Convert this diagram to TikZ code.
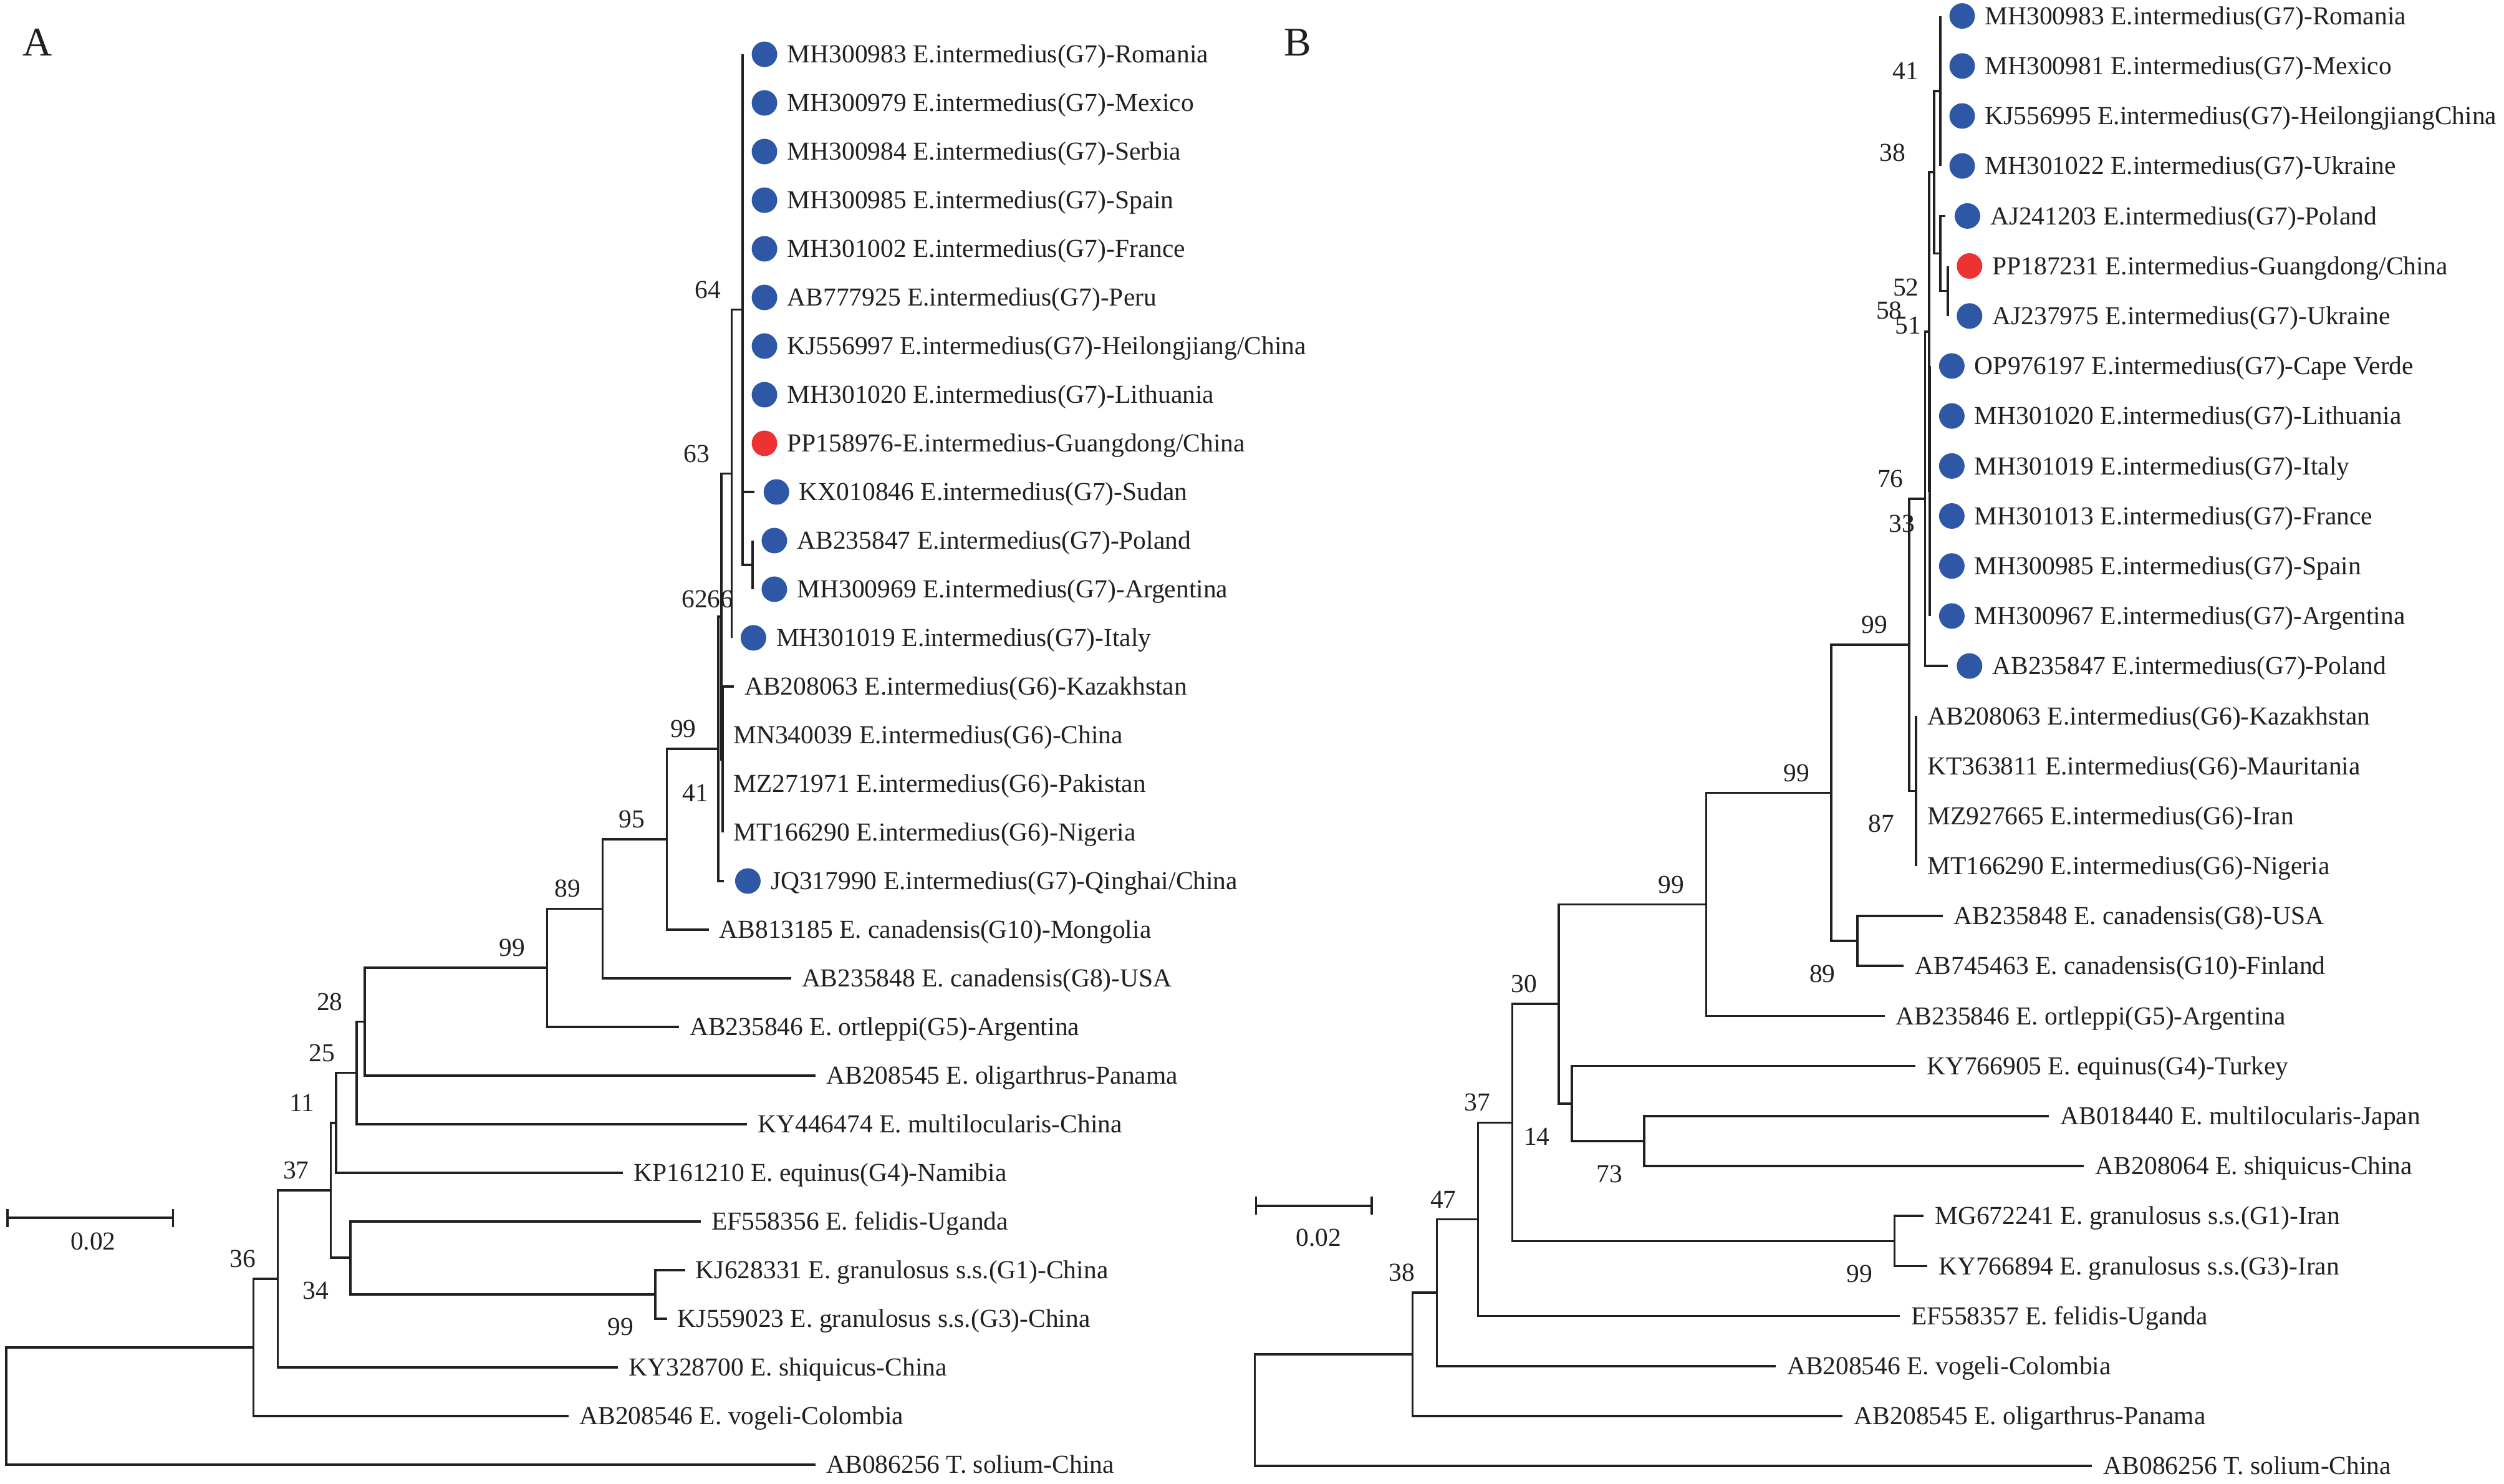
\documentclass[tikz,border=0pt]{standalone}
\usepackage{fontspec}
\setmainfont{Liberation Serif}
\usetikzlibrary{positioning}
\usetikzlibrary{arrows.meta}

\definecolor{inkline}{RGB}{35,31,32}
\definecolor{dotblue}{RGB}{46,88,166}
\definecolor{dotred}{RGB}{236,50,50}

\tikzset{
  branch/.style={draw=inkline, line width=1.4pt},
  tiplabel/.style={anchor=west, inner sep=0pt, text=inkline, font=\fontsize{16.2}{18}\selectfont, text height=10.7pt, text depth=0pt},
  bluedot/.style={circle, fill=dotblue, minimum size=16pt, inner sep=0pt},
  reddot/.style={circle, fill=dotred, minimum size=16pt, inner sep=0pt},
  bsfree/.style={inner sep=0pt, text=inkline, font=\fontsize{16.2}{18}\selectfont},
  bsup/.style={bsfree, anchor=east, xshift=-13.5pt, yshift=12.5pt},
  bsdown/.style={bsfree, anchor=east, xshift=-13.5pt, yshift=-20.5pt},
  panel/.style={inner sep=0pt, text=inkline, font=\fontsize{25.5}{28}\selectfont},
  scalebar/.style={branch, {Bar[width=11.4pt]}-{Bar[width=11.4pt]}}
}

\begin{document}
\begin{tikzpicture}[x=1pt, y=-1pt]
\useasboundingbox (0,0) rectangle (1568,929);

\node[panel] (pA) at (23.5,26.7) {A};
\node[panel] (pB) at (812.5,26.7) {B};

% Tree A: internal nodes
\coordinate (aN64) at (465,193.9);
\coordinate (aNc) at (471.2,353.7);
\coordinate (aN63) at (458.1,296.6);
\coordinate (aNW) at (452.6,475.5);
\coordinate (aNZ) at (451.7,386.1);
\coordinate (aNY) at (449.7,468.9);
\coordinate (aN95) at (417.5,525.5);
\coordinate (aN89) at (377.3,569);
\coordinate (aN99) at (342.6,606);
\coordinate (aN28) at (228.3,639.7);
\coordinate (aN25) at (223.4,671.8);
\coordinate (aN11) at (210.5,703.1);
\coordinate (aN34) at (219.5,787.6);
\coordinate (aNg) at (410.3,810.5);
\coordinate (aN37) at (207.2,745.4);
\coordinate (aN36) at (173.9,800.8);
\coordinate (aNr1) at (158.7,843.7);
\coordinate (aNroot) at (3.9,880.4);

% Tree A: tips
\coordinate (tA1) at (465,34.0);
\coordinate (tA2) at (465,64.45);
\coordinate (tA3) at (465,94.9);
\coordinate (tA4) at (465,125.35);
\coordinate (tA5) at (465,155.8);
\coordinate (tA6) at (465,186.25);
\coordinate (tA7) at (465,216.7);
\coordinate (tA8) at (465,247.15);
\coordinate (tA9) at (465,277.6);
\coordinate (tA10) at (472.5,308.05);
\coordinate (tA11) at (471.2,338.5);
\coordinate (tA12) at (471.2,368.95);
\coordinate (tA13) at (458.1,399.4);
\coordinate (tA14) at (459.6,429.85);
\coordinate (tA15) at (452.6,460.3);
\coordinate (tA16) at (452.6,490.75);
\coordinate (tA17) at (452.6,521.2);
\coordinate (tA18) at (453.1,551.65);
\coordinate (tA19) at (443.8,582.1);
\coordinate (tA20) at (495.4,612.55);
\coordinate (tA21) at (425.2,643.0);
\coordinate (tA22) at (510.8,673.45);
\coordinate (tA23) at (467.9,703.9);
\coordinate (tA24) at (390.2,734.35);
\coordinate (tA25) at (438.8,764.8);
\coordinate (tA26) at (429.0,795.25);
\coordinate (tA27) at (417.7,825.7);
\coordinate (tA28) at (387.0,856.15);
\coordinate (tA29) at (356.2,886.6);
\coordinate (tA30) at (510.8,917.05);

% Tree A: branches
\draw[branch] (aN64) |- (tA1) (aN64) |- (tA2) (aN64) |- (tA3) (aN64) |- (tA4) (aN64) |- (tA5)
  (aN64) |- (tA6) (aN64) |- (tA7) (aN64) |- (tA8) (aN64) |- (tA9) (aN64) |- (tA10) (aN64) |- (aNc);
\draw[branch] (aNc) |- (tA11) (aNc) |- (tA12);
\draw[branch] (aN63) |- (aN64) (aN63) |- (tA13);
\draw[branch] (aNW) |- (tA14) (aNW) |- (tA15) (aNW) |- (tA16) (aNW) |- (tA17);
\draw[branch] (aNZ) |- (aN63) (aNZ) |- (aNW);
\draw[branch] (aNY) |- (aNZ) (aNY) |- (tA18);
\draw[branch] (aN95) |- (aNY) (aN95) |- (tA19);
\draw[branch] (aN89) |- (aN95) (aN89) |- (tA20);
\draw[branch] (aN99) |- (aN89) (aN99) |- (tA21);
\draw[branch] (aN28) |- (aN99) (aN28) |- (tA22);
\draw[branch] (aN25) |- (aN28) (aN25) |- (tA23);
\draw[branch] (aN11) |- (aN25) (aN11) |- (tA24);
\draw[branch] (aNg) |- (tA26) (aNg) |- (tA27);
\draw[branch] (aN34) |- (tA25) (aN34) |- (aNg);
\draw[branch] (aN37) |- (aN11) (aN37) |- (aN34);
\draw[branch] (aN36) |- (aN37) (aN36) |- (tA28);
\draw[branch] (aNr1) |- (aN36) (aNr1) |- (tA29);
\draw[branch] (aNroot) |- (aNr1) (aNroot) |- (tA30);

% Tree A: tip labels
\node[bluedot, right=5.5pt of tA1] (dA1) {};
\node[tiplabel, right=5.9pt of dA1] (lA1) {MH300983 E.intermedius(G7)-Romania};
\node[bluedot, right=5.5pt of tA2] (dA2) {};
\node[tiplabel, right=5.9pt of dA2] (lA2) {MH300979 E.intermedius(G7)-Mexico};
\node[bluedot, right=5.5pt of tA3] (dA3) {};
\node[tiplabel, right=5.9pt of dA3] (lA3) {MH300984 E.intermedius(G7)-Serbia};
\node[bluedot, right=5.5pt of tA4] (dA4) {};
\node[tiplabel, right=5.9pt of dA4] (lA4) {MH300985 E.intermedius(G7)-Spain};
\node[bluedot, right=5.5pt of tA5] (dA5) {};
\node[tiplabel, right=5.9pt of dA5] (lA5) {MH301002 E.intermedius(G7)-France};
\node[bluedot, right=5.5pt of tA6] (dA6) {};
\node[tiplabel, right=5.9pt of dA6] (lA6) {AB777925 E.intermedius(G7)-Peru};
\node[bluedot, right=5.5pt of tA7] (dA7) {};
\node[tiplabel, right=5.9pt of dA7] (lA7) {KJ556997 E.intermedius(G7)-Heilongjiang/China};
\node[bluedot, right=5.5pt of tA8] (dA8) {};
\node[tiplabel, right=5.9pt of dA8] (lA8) {MH301020 E.intermedius(G7)-Lithuania};
\node[reddot, right=5.5pt of tA9] (dA9) {};
\node[tiplabel, right=5.9pt of dA9] (lA9) {PP158976-E.intermedius-Guangdong/China};
\node[bluedot, right=5.5pt of tA10] (dA10) {};
\node[tiplabel, right=5.9pt of dA10] (lA10) {KX010846 E.intermedius(G7)-Sudan};
\node[bluedot, right=5.5pt of tA11] (dA11) {};
\node[tiplabel, right=5.9pt of dA11] (lA11) {AB235847 E.intermedius(G7)-Poland};
\node[bluedot, right=5.5pt of tA12] (dA12) {};
\node[tiplabel, right=5.9pt of dA12] (lA12) {MH300969 E.intermedius(G7)-Argentina};
\node[bluedot, right=5.5pt of tA13] (dA13) {};
\node[tiplabel, right=5.9pt of dA13] (lA13) {MH301019 E.intermedius(G7)-Italy};
\node[tiplabel, right=6.5pt of tA14] (lA14) {AB208063 E.intermedius(G6)-Kazakhstan};
\node[tiplabel, right=6.5pt of tA15] (lA15) {MN340039 E.intermedius(G6)-China};
\node[tiplabel, right=6.5pt of tA16] (lA16) {MZ271971 E.intermedius(G6)-Pakistan};
\node[tiplabel, right=6.5pt of tA17] (lA17) {MT166290 E.intermedius(G6)-Nigeria};
\node[bluedot, right=7pt of tA18] (dA18) {};
\node[tiplabel, right=5.9pt of dA18] (lA18) {JQ317990 E.intermedius(G7)-Qinghai/China};
\node[tiplabel, right=6.5pt of tA19] (lA19) {AB813185 E. canadensis(G10)-Mongolia};
\node[tiplabel, right=6.5pt of tA20] (lA20) {AB235848 E. canadensis(G8)-USA};
\node[tiplabel, right=6.5pt of tA21] (lA21) {AB235846 E. ortleppi(G5)-Argentina};
\node[tiplabel, right=6.5pt of tA22] (lA22) {AB208545 E. oligarthrus-Panama};
\node[tiplabel, right=6.5pt of tA23] (lA23) {KY446474 E. multilocularis-China};
\node[tiplabel, right=6.5pt of tA24] (lA24) {KP161210 E. equinus(G4)-Namibia};
\node[tiplabel, right=6.5pt of tA25] (lA25) {EF558356 E. felidis-Uganda};
\node[tiplabel, right=6.5pt of tA26] (lA26) {KJ628331 E. granulosus s.s.(G1)-China};
\node[tiplabel, right=6.5pt of tA27] (lA27) {KJ559023 E. granulosus s.s.(G3)-China};
\node[tiplabel, right=6.5pt of tA28] (lA28) {KY328700 E. shiquicus-China};
\node[tiplabel, right=6.5pt of tA29] (lA29) {AB208546 E. vogeli-Colombia};
\node[tiplabel, right=6.5pt of tA30] (lA30) {AB086256 T. solium-China};

% Tree A: bootstrap values
\node[bsup] (bA64) at (aN64) {64};
\node[bsup] (bA63) at (aN63) {63};
\node[bsfree] (bA62) at (435,375) {62};
\node[bsfree] (bA66) at (451,375) {66};
\node[bsup] (bAY) at (aNY) {99};
\node[bsfree] (bA41) at (435.4,496.5) {41};
\node[bsup] (bA95) at (aN95) {95};
\node[bsup] (bA89) at (aN89) {89};
\node[bsup] (bA99) at (aN99) {99};
\node[bsup] (bA28) at (aN28) {28};
\node[bsup] (bA25) at (aN25) {25};
\node[bsup] (bA11) at (aN11) {11};
\node[bsup] (bA37) at (aN37) {37};
\node[bsup] (bA36) at (aN36) {36};
\node[bsdown] (bA34) at (aN34) {34};
\node[bsdown] (bAg) at (aNg) {99};

% Tree A: scale
\coordinate (sA0) at (3.9,762.6);
\coordinate (sA1) at (109.1,762.6);
\draw[scalebar] (sA0) -- (sA1);
\node[bsfree] (scA) at (58.3,777.3) {0.02};

% Tree B: internal nodes
\coordinate (bN41) at (1215,56.97);
\coordinate (bNc) at (1219.6,182.2);
\coordinate (bN52) at (1215,158.7);
\coordinate (bN38) at (1211.1,107.8);
\coordinate (bNP) at (1208.5,307.4);
\coordinate (bNX) at (1207.9,207.6);
\coordinate (bNR) at (1205.5,312.3);
\coordinate (bNG) at (1199.8,495.3);
\coordinate (bNS) at (1195.5,403.8);
\coordinate (bNcan) at (1163,589.2);
\coordinate (bNT) at (1146.8,496.5);
\coordinate (bNU) at (1068.4,566.4);
\coordinate (bN73) at (1029.6,714.5);
\coordinate (bN14) at (984.2,691);
\coordinate (bNV) at (976.1,628.7);
\coordinate (bNg) at (1186.3,777.1);
\coordinate (bN37) at (947,702.9);
\coordinate (bN47) at (925.6,763.5);
\coordinate (bN38r) at (899.7,809.4);
\coordinate (bNr1) at (884.5,848);
\coordinate (bNroot) at (785.8,883);

% Tree B: tips
\coordinate (tB1) at (1215,10.0);
\coordinate (tB2) at (1215,41.31);
\coordinate (tB3) at (1215,72.62);
\coordinate (tB4) at (1215,103.93);
\coordinate (tB5) at (1218.3,135.24);
\coordinate (tB6) at (1219.6,166.55);
\coordinate (tB7) at (1219.6,197.86);
\coordinate (tB8) at (1208.5,229.17);
\coordinate (tB9) at (1208.5,260.48);
\coordinate (tB10) at (1208.5,291.79);
\coordinate (tB11) at (1208.5,323.1);
\coordinate (tB12) at (1208.5,354.41);
\coordinate (tB13) at (1208.5,385.72);
\coordinate (tB14) at (1219.6,417.03);
\coordinate (tB15) at (1199.8,448.34);
\coordinate (tB16) at (1199.8,479.65);
\coordinate (tB17) at (1199.8,510.96);
\coordinate (tB18) at (1199.8,542.27);
\coordinate (tB19) at (1216.4,573.58);
\coordinate (tB20) at (1192.1,604.89);
\coordinate (tB21) at (1180.1,636.2);
\coordinate (tB22) at (1199.3,667.51);
\coordinate (tB23) at (1283,698.82);
\coordinate (tB24) at (1305,730.13);
\coordinate (tB25) at (1204.4,761.44);
\coordinate (tB26) at (1206.7,792.75);
\coordinate (tB27) at (1189.5,824.06);
\coordinate (tB28) at (1111.8,855.37);
\coordinate (tB29) at (1153.9,886.68);
\coordinate (tB30) at (1310,917.99);

% Tree B: branches
\draw[branch] (bN41) |- (tB1) (bN41) |- (tB2) (bN41) |- (tB3) (bN41) |- (tB4);
\draw[branch] (bNc) |- (tB6) (bNc) |- (tB7);
\draw[branch] (bN52) |- (tB5) (bN52) |- (bNc);
\draw[branch] (bN38) |- (bN41) (bN38) |- (bN52);
\draw[branch] (bNP) |- (tB8) (bNP) |- (tB9) (bNP) |- (tB10) (bNP) |- (tB11) (bNP) |- (tB12) (bNP) |- (tB13);
\draw[branch] (bNX) |- (bN38) (bNX) |- (bNP);
\draw[branch] (bNR) |- (bNX) (bNR) |- (tB14);
\draw[branch] (bNG) |- (tB15) (bNG) |- (tB16) (bNG) |- (tB17) (bNG) |- (tB18);
\draw[branch] (bNS) |- (bNR) (bNS) |- (bNG);
\draw[branch] (bNcan) |- (tB19) (bNcan) |- (tB20);
\draw[branch] (bNT) |- (bNS) (bNT) |- (bNcan);
\draw[branch] (bNU) |- (bNT) (bNU) |- (tB21);
\draw[branch] (bN73) |- (tB23) (bN73) |- (tB24);
\draw[branch] (bN14) |- (tB22) (bN14) |- (bN73);
\draw[branch] (bNV) |- (bNU) (bNV) |- (bN14);
\draw[branch] (bNg) |- (tB25) (bNg) |- (tB26);
\draw[branch] (bN37) |- (bNV) (bN37) |- (bNg);
\draw[branch] (bN47) |- (bN37) (bN47) |- (tB27);
\draw[branch] (bN38r) |- (bN47) (bN38r) |- (tB28);
\draw[branch] (bNr1) |- (bN38r) (bNr1) |- (tB29);
\draw[branch] (bNroot) |- (bNr1) (bNroot) |- (tB30);

% Tree B: tip labels
\node[bluedot, right=5.5pt of tB1] (dB1) {};
\node[tiplabel, right=5.9pt of dB1] (lB1) {MH300983 E.intermedius(G7)-Romania};
\node[bluedot, right=5.5pt of tB2] (dB2) {};
\node[tiplabel, right=5.9pt of dB2] (lB2) {MH300981 E.intermedius(G7)-Mexico};
\node[bluedot, right=5.5pt of tB3] (dB3) {};
\node[tiplabel, right=5.9pt of dB3] (lB3) {KJ556995 E.intermedius(G7)-HeilongjiangChina};
\node[bluedot, right=5.5pt of tB4] (dB4) {};
\node[tiplabel, right=5.9pt of dB4] (lB4) {MH301022 E.intermedius(G7)-Ukraine};
\node[bluedot, right=5.5pt of tB5] (dB5) {};
\node[tiplabel, right=5.9pt of dB5] (lB5) {AJ241203 E.intermedius(G7)-Poland};
\node[reddot, right=5.5pt of tB6] (dB6) {};
\node[tiplabel, right=5.9pt of dB6] (lB6) {PP187231 E.intermedius-Guangdong/China};
\node[bluedot, right=5.5pt of tB7] (dB7) {};
\node[tiplabel, right=5.9pt of dB7] (lB7) {AJ237975 E.intermedius(G7)-Ukraine};
\node[bluedot, right=5.5pt of tB8] (dB8) {};
\node[tiplabel, right=5.9pt of dB8] (lB8) {OP976197 E.intermedius(G7)-Cape Verde};
\node[bluedot, right=5.5pt of tB9] (dB9) {};
\node[tiplabel, right=5.9pt of dB9] (lB9) {MH301020 E.intermedius(G7)-Lithuania};
\node[bluedot, right=5.5pt of tB10] (dB10) {};
\node[tiplabel, right=5.9pt of dB10] (lB10) {MH301019 E.intermedius(G7)-Italy};
\node[bluedot, right=5.5pt of tB11] (dB11) {};
\node[tiplabel, right=5.9pt of dB11] (lB11) {MH301013 E.intermedius(G7)-France};
\node[bluedot, right=5.5pt of tB12] (dB12) {};
\node[tiplabel, right=5.9pt of dB12] (lB12) {MH300985 E.intermedius(G7)-Spain};
\node[bluedot, right=5.5pt of tB13] (dB13) {};
\node[tiplabel, right=5.9pt of dB13] (lB13) {MH300967 E.intermedius(G7)-Argentina};
\node[bluedot, right=5.5pt of tB14] (dB14) {};
\node[tiplabel, right=5.9pt of dB14] (lB14) {AB235847 E.intermedius(G7)-Poland};
\node[tiplabel, right=7pt of tB15] (lB15) {AB208063 E.intermedius(G6)-Kazakhstan};
\node[tiplabel, right=7pt of tB16] (lB16) {KT363811 E.intermedius(G6)-Mauritania};
\node[tiplabel, right=7pt of tB17] (lB17) {MZ927665 E.intermedius(G6)-Iran};
\node[tiplabel, right=7pt of tB18] (lB18) {MT166290 E.intermedius(G6)-Nigeria};
\node[tiplabel, right=7pt of tB19] (lB19) {AB235848 E. canadensis(G8)-USA};
\node[tiplabel, right=7pt of tB20] (lB20) {AB745463 E. canadensis(G10)-Finland};
\node[tiplabel, right=7pt of tB21] (lB21) {AB235846 E. ortleppi(G5)-Argentina};
\node[tiplabel, right=7pt of tB22] (lB22) {KY766905 E. equinus(G4)-Turkey};
\node[tiplabel, right=7pt of tB23] (lB23) {AB018440 E. multilocularis-Japan};
\node[tiplabel, right=7pt of tB24] (lB24) {AB208064 E. shiquicus-China};
\node[tiplabel, right=7pt of tB25] (lB25) {MG672241 E. granulosus s.s.(G1)-Iran};
\node[tiplabel, right=7pt of tB26] (lB26) {KY766894 E. granulosus s.s.(G3)-Iran};
\node[tiplabel, right=7pt of tB27] (lB27) {EF558357 E. felidis-Uganda};
\node[tiplabel, right=7pt of tB28] (lB28) {AB208546 E. vogeli-Colombia};
\node[tiplabel, right=7pt of tB29] (lB29) {AB208545 E. oligarthrus-Panama};
\node[tiplabel, right=7pt of tB30] (lB30) {AB086256 T. solium-China};

% Tree B: bootstrap values
\node[bsup] (bB41) at (bN41) {41};
\node[bsfree] (bB38) at (1185,95.6) {38};
\node[bsfree] (bB52) at (1193.5,180) {52};
\node[bsfree] (bB58) at (1183,194.3) {58};
\node[bsfree] (bB51) at (1195,204) {51};
\node[bsup] (bB76) at (bNR) {76};
\node[bsfree] (bB33) at (1191,328) {33};
\node[bsup] (bBS) at (bNS) {99};
\node[bsdown] (bB87) at (bNG) {87};
\node[bsup] (bBT) at (bNT) {99};
\node[bsdown] (bB89) at (bNcan) {89};
\node[bsup] (bBU) at (bNU) {99};
\node[bsup] (bB30) at (bNV) {30};
\node[bsdown] (bB14) at (bN14) {14};
\node[bsdown] (bB73) at (bN73) {73};
\node[bsup] (bB37) at (bN37) {37};
\node[bsdown] (bBg) at (bNg) {99};
\node[bsup] (bB47) at (bN47) {47};
\node[bsup] (bB38r) at (bN38r) {38};

% Tree B: scale
\coordinate (sB0) at (785.8,755);
\coordinate (sB1) at (859.6,755);
\draw[scalebar] (sB0) -- (sB1);
\node[bsfree] (scB) at (825.6,774.9) {0.02};

\end{tikzpicture}
\end{document}
